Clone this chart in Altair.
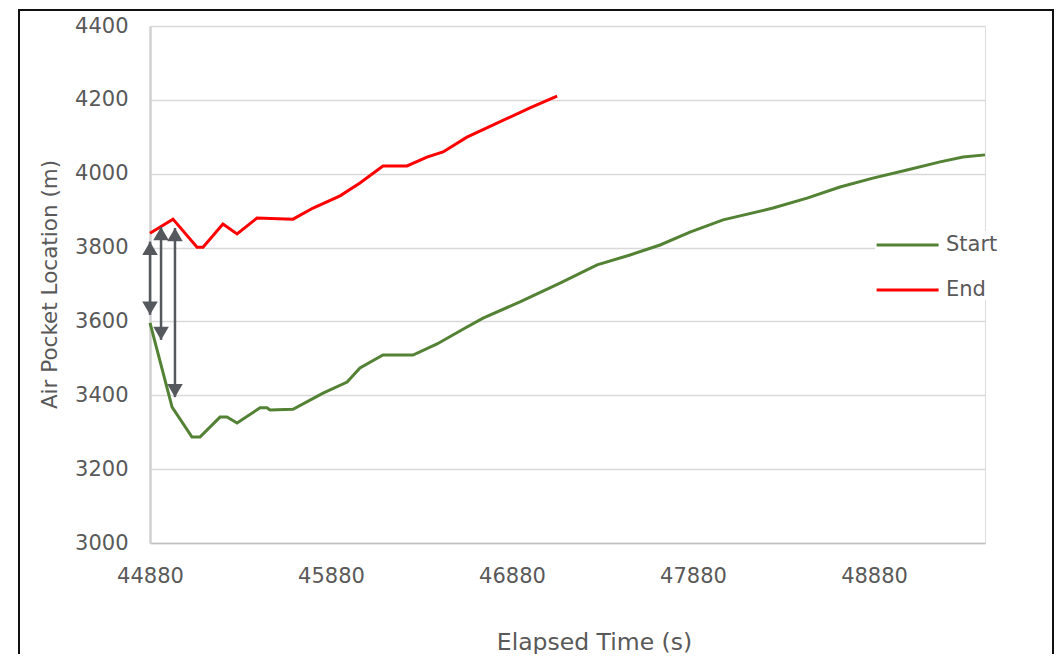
import altair as alt
import pandas as pd

# ---- data ----
series_names = ["Start", "End"]
series_colors = ["#548235", "#ff0000"]

end_t = [44880, 45007, 45140, 45173, 45283, 45361, 45471, 45670, 45781, 45930,
         46040, 46167, 46300, 46410, 46499, 46631, 46797, 46979, 47129]
end_y = [3839, 3877, 3801, 3801, 3864, 3837, 3880, 3877, 3907, 3940,
         3975, 4021, 4021, 4045, 4059, 4099, 4137, 4178, 4210]

start_t = [44880, 45002, 45112, 45156, 45267, 45305, 45361, 45488, 45526, 45543,
           45670, 45836, 45969, 46040, 46167, 46333, 46466, 46609, 46720, 46924,
           47145, 47350, 47532, 47698, 47863, 48046, 48322, 48510, 48692, 48874,
           49062, 49245, 49372, 49493]
start_y = [3596, 3368, 3287, 3287, 3341, 3341, 3325, 3366, 3366, 3360,
           3362, 3406, 3436, 3474, 3509, 3509, 3539, 3579, 3609, 3653,
           3704, 3753, 3780, 3807, 3842, 3875, 3907, 3934, 3964, 3988,
           4010, 4032, 4045, 4051]

arrow_t = [44880, 44941, 45018]
arrow_top = [3816, 3856, 3853]
arrow_bottom = [3618, 3550, 3395]

x_ticks = [44880, 45880, 46880, 47880, 48880]
y_ticks = [3000, 3200, 3400, 3600, 3800, 4000, 4200, 4400]
x_domain = [44880, 49493]
y_domain = [3000, 4400]

# ---- tables ----
lines_df = pd.concat([
    pd.DataFrame({"t": start_t, "y": start_y, "series": "Start", "i": range(len(start_t))}),
    pd.DataFrame({"t": end_t, "y": end_y, "series": "End", "i": range(len(end_t))}),
], ignore_index=True)
arrows_df = pd.DataFrame({"t": arrow_t, "top": arrow_top, "bottom": arrow_bottom})

W, H = 835, 517
GREY = "#595959"
ARROW = "#55585d"
FONT = "DejaVu Sans"

x_scale = alt.Scale(domain=x_domain, nice=False, zero=False)
y_scale = alt.Scale(domain=y_domain, nice=False, zero=False)

x_axis = alt.Axis(values=x_ticks, format="d", title="Elapsed Time (s)", grid=False,
                  ticks=False, domainColor="#bfbfbf", domainWidth=1.5,
                  labelFlush=False, labelFont=FONT, labelFontSize=21,
                  labelColor=GREY, labelPadding=22, titleFont=FONT,
                  titleFontSize=23.5, titleFontWeight="normal", titleColor=GREY,
                  titleX=444, titleY=99, titleBaseline="middle",
                  titleAlign="center")
y_axis = alt.Axis(values=y_ticks, format="d", title="Air Pocket Location (m)",
                  grid=True, gridColor="#d9d9d9", gridWidth=1.5, ticks=False,
                  domainColor="#d0d0d0", domainWidth=2.5, labelFlush=False,
                  labelFont=FONT, labelFontSize=21, labelColor=GREY,
                  labelPadding=22, titleFont=FONT, titleFontSize=21.5,
                  titleFontWeight="normal", titleColor=GREY, titleX=-100,
                  titleY=258, titleAngle=270, titleBaseline="middle",
                  titleAlign="center")

frame = alt.Chart(pd.DataFrame({"k": [0]})).mark_rect(
    fill="white", fillOpacity=0, stroke="#111111", strokeWidth=2
).encode(x=alt.value(-131), x2=alt.value(903), y=alt.value(-16), y2=alt.value(700))

lines = alt.Chart(lines_df).mark_line(strokeWidth=3).encode(
    x=alt.X("t:Q", scale=x_scale, axis=x_axis),
    y=alt.Y("y:Q", scale=y_scale, axis=y_axis),
    color=alt.Color("series:N",
                    scale=alt.Scale(domain=series_names, range=series_colors),
                    sort=series_names,
                    legend=alt.Legend(orient="none", legendX=725, legendY=205,
                                      title=None, symbolType="M-1,0L4,0",
                                      symbolSize=615, symbolStrokeWidth=3,
                                      labelOffset=43, labelFontSize=21,
                                      labelFont=FONT, labelColor=GREY,
                                      rowPadding=21, padding=0,
                                      fillColor="white")),
    order="i:Q",
)

shafts = alt.Chart(arrows_df).mark_rule(color=ARROW, strokeWidth=2.5).encode(
    x=alt.X("t:Q", scale=x_scale),
    y=alt.Y("top:Q", scale=y_scale),
    y2="bottom:Q",
)
heads_up = alt.Chart(arrows_df).mark_point(
    shape="M0,0L-1,1.7L1,1.7Z", size=243, filled=True, color=ARROW, opacity=1
).encode(x=alt.X("t:Q", scale=x_scale), y=alt.Y("top:Q", scale=y_scale))
heads_down = alt.Chart(arrows_df).mark_point(
    shape="M0,0L-1,-1.7L1,-1.7Z", size=243, filled=True, color=ARROW, opacity=1
).encode(x=alt.X("t:Q", scale=x_scale), y=alt.Y("bottom:Q", scale=y_scale))

chart = alt.layer(frame, lines, shafts, heads_up, heads_down).properties(
    width=W, height=H,
    autosize=alt.AutoSizeParams(type="none"),
    padding={"left": 142, "top": 18, "right": 70, "bottom": 111},
).configure_view(stroke=None).configure(background="white")

chart.save("out.html", embed_options={"renderer": "svg", "actions": False})
